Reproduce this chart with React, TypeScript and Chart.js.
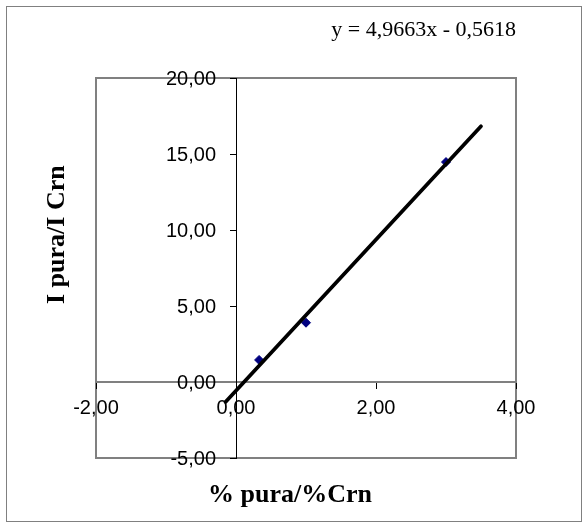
import React, { useEffect, useRef } from 'react';
import { Chart, registerables } from 'chart.js';

Chart.register(...registerables);

// ---- data ----
const xValues = [0.33, 1, 3];
const yValues = [1.45, 3.9, 14.47];
const trendX = [-0.15, 3.5];
const trendY = [-1.31, 16.82];
const xTicks = [-2, 0, 2, 4];
const yTicks = [-5, 0, 5, 10, 15, 20];
const equationLabel = 'y = 4,9663x - 0,5618';
const xTitle = '% pura/%Crn';
const yTitle = 'I pura/I Crn';

const fmt = (v: number) => v.toFixed(2).replace('.', ',');

const W = 582;
const H = 522;
const TICK_FONT = '20px "Liberation Sans", Arial, sans-serif';

const framePlugin = {
  id: 'frame',
  beforeDraw(chart: any) {
    const ctx = chart.ctx;
    const a = chart.chartArea;
    ctx.save();
    ctx.fillStyle = '#ffffff';
    ctx.fillRect(0, 0, W, H);
    ctx.strokeStyle = '#808080';
    ctx.lineWidth = 1;
    ctx.strokeRect(6.5, 6.5, W - 7, H - 7);
    ctx.lineWidth = 2;
    ctx.strokeRect(a.left, a.top, a.right - a.left, a.bottom - a.top);
    ctx.restore();
  },
  afterDraw(chart: any) {
    const ctx = chart.ctx;
    const a = chart.chartArea;
    const xs = chart.scales.x;
    const ys = chart.scales.y;
    ctx.save();
    ctx.fillStyle = '#000000';

    // y tick labels, placed left of the y axis that crosses at x = 0
    ctx.font = TICK_FONT;
    ctx.textAlign = 'right';
    ctx.textBaseline = 'middle';
    const axisX = xs.getPixelForValue(0);
    ys.ticks.forEach((t: any) => {
      ctx.fillText(fmt(t.value), axisX - 20, ys.getPixelForValue(t.value) + 1);
    });

    ctx.font = '22px "Liberation Serif", "Times New Roman", serif';
    ctx.textAlign = 'right';
    ctx.textBaseline = 'alphabetic';
    ctx.fillText(equationLabel, a.right, 36);

    ctx.font = 'bold 26px "Liberation Serif", "Times New Roman", serif';
    ctx.textAlign = 'center';
    ctx.textBaseline = 'middle';
    ctx.fillText(xTitle, 290, 495);

    ctx.translate(57, 304);
    ctx.rotate(-Math.PI / 2);
    ctx.textAlign = 'left';
    ctx.fillText(yTitle, 0, 0);
    ctx.restore();
  },
};

export default function App() {
  const ref = useRef<HTMLCanvasElement | null>(null);

  useEffect(() => {
    document.body.style.margin = '0';
    const canvas = ref.current;
    if (!canvas) return;
    const chart = new Chart(canvas, {
      type: 'scatter',
      data: {
        datasets: [
          {
            type: 'line',
            label: 'trend',
            data: trendX.map((x, i) => ({ x, y: trendY[i] })),
            borderColor: '#000000',
            borderWidth: 3.75,
            borderCapStyle: 'round',
            pointRadius: 0,
            fill: false,
            order: 0,
          } as any,
          {
            label: 'data',
            data: xValues.map((x, i) => ({ x, y: yValues[i] })),
            pointStyle: 'rectRot',
            pointRadius: 4.5,
            backgroundColor: '#000080',
            borderColor: '#000080',
            borderWidth: 1,
            order: 1,
          },
        ],
      },
      options: {
        animation: false,
        responsive: false,
        devicePixelRatio: 1,
        layout: { padding: { left: 96, right: 66, top: 78, bottom: 64 } },
        plugins: {
          legend: { display: false },
          tooltip: { enabled: false },
          title: { display: false },
        },
        scales: {
          x: {
            type: 'linear',
            min: xTicks[0],
            max: xTicks[xTicks.length - 1],
            position: { y: 0 } as any,
            afterBuildTicks: (s: any) => {
              s.ticks = xTicks.map((v) => ({ value: v }));
            },
            grid: {
              display: true,
              drawOnChartArea: false,
              drawTicks: true,
              tickLength: 6,
              color: '#000000',
              lineWidth: 1,
            },
            border: { display: true, color: '#808080', width: 2 },
            ticks: {
              autoSkip: false,
              maxRotation: 0,
              padding: 8,
              color: '#000000',
              font: { family: '"Liberation Sans", Arial, sans-serif', size: 20 },
              callback: (v: any) => fmt(Number(v)),
            },
          },
          y: {
            type: 'linear',
            min: yTicks[0],
            max: yTicks[yTicks.length - 1],
            position: { x: 0 } as any,
            afterBuildTicks: (s: any) => {
              s.ticks = yTicks.map((v) => ({ value: v }));
            },
            grid: {
              display: true,
              drawOnChartArea: false,
              drawTicks: true,
              tickLength: 6,
              color: '#000000',
              lineWidth: 1,
            },
            border: { display: true, color: '#000000', width: 1 },
            ticks: {
              display: false,
              autoSkip: false,
            },
          },
        },
      },
      plugins: [framePlugin],
    });
    return () => chart.destroy();
  }, []);

  return (
    <div style={{ width: W, height: H }}>
      <canvas ref={ref} width={W} height={H} style={{ width: W, height: H, display: 'block' }} />
    </div>
  );
}
